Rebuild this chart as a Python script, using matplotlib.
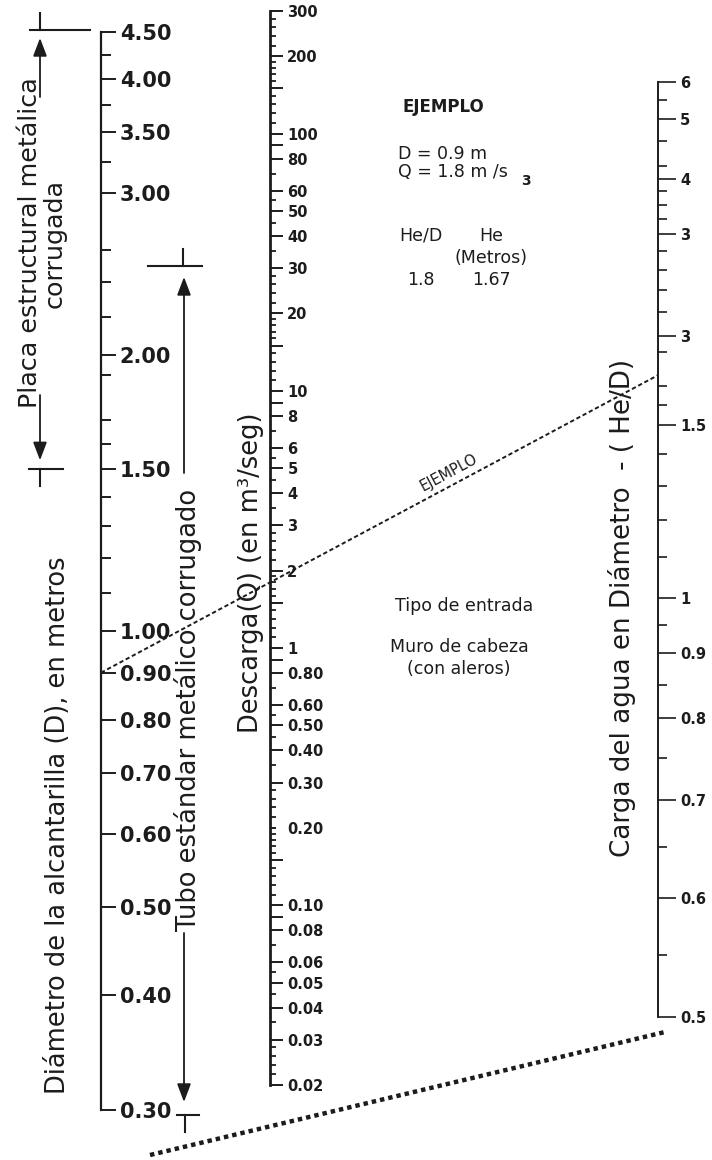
import numpy as np
import matplotlib
matplotlib.use("Agg")
import matplotlib.pyplot as plt
from matplotlib.ticker import FixedLocator, FuncFormatter, NullFormatter
from matplotlib.patches import FancyArrowPatch

# ---- Culvert diameter scale D (m) ----
D_TICKS = [4.50, 4.00, 3.50, 3.00, 2.00, 1.50, 1.00, 0.90, 0.80, 0.70, 0.60, 0.50, 0.40, 0.30]
D_LABELS = ["4.50", "4.00", "3.50", "3.00", "2.00", "1.50", "1.00", "0.90", "0.80",
            "0.70", "0.60", "0.50", "0.40", "0.30"]
D_MINOR = [4.25, 3.75, 3.25, 2.6, 2.4, 2.2, 1.9, 1.7, 1.6, 1.4, 1.3, 1.2, 1.1]

# ---- Discharge scale Q (m3/s) ----
Q_TICKS = [300, 200, 100, 80, 60, 50, 40, 30, 20, 10, 8, 6, 5, 4, 3, 2, 1,
           0.8, 0.6, 0.5, 0.4, 0.3, 0.2, 0.1, 0.08, 0.06, 0.05, 0.04, 0.03, 0.02]
Q_LABELS = ["300", "200", "100", "80", "60", "50", "40", "30", "20", "10", "8", "6", "5",
            "4", "3", "2", "1", "0.80", "0.60", "0.50", "0.40", "0.30", "0.20", "0.10",
            "0.08", "0.06", "0.05", "0.04", "0.03", "0.02"]
Q_SHORT_LABELLED = [0.2]          # labelled values drawn with a short tick
Q_MID = [150, 90, 15, 9, 1.5, 0.9, 0.15, 0.09]
Q_MINOR_MANTISSA = [1.1, 1.2, 1.3, 1.4, 1.6, 1.7, 1.8, 1.9, 2.2, 2.4, 2.6, 2.8, 3.5, 4.5, 5.5, 7]
Q_DECADES = [0.01, 0.1, 1, 10, 100]

# ---- Headwater depth in diameters He/D ----
HED_TICKS = [6, 5, 4, 3, 2, 1.5, 1, 0.9, 0.8, 0.7, 0.6, 0.5]
HED_LABELS = ["6", "5", "4", "3", "3", "1.5", "1", "0.9", "0.8", "0.7", "0.6", "0.5"]
HED_MINOR = [5.5, 4.6, 4.2, 3.75, 3.5, 3.25, 2.8, 2.6, 2.4, 2.2, 1.9, 1.7, 1.6,
             1.4, 1.3, 1.2, 1.1, 0.95, 0.85, 0.75, 0.65, 0.55]
# graduation of the He/D scale: value -> fraction of scale length from the bottom
HED_GRAD_VALUES = [0.5, 0.6, 0.7, 0.8, 0.9, 1.0, 1.5, 2.0, 3.0, 4.0, 5.0, 6.0]
HED_GRAD_FRAC = [0.0, 0.1273, 0.2321, 0.3198, 0.3893, 0.4481, 0.6332, 0.7283,
                 0.8374, 0.8963, 0.9604, 1.0]

# ---- Worked example ----
EX_D = 0.9
EX_Q = 1.8
EX_HED = 1.8
EX_HE = 1.67

# ---- pipe-type ranges on the D scale ----
PLACA_RANGE = (1.5, 4.5)
TUBO_RANGE = (0.3, 2.5)

INK = "#1c1c1c"
W, H = 712, 1160
fig = plt.figure(figsize=(W / 100, H / 100), dpi=100)
fig.patch.set_facecolor("white")

ov = fig.add_axes([0, 0, 1, 1])
ov.set_xlim(0, W)
ov.set_ylim(H, 0)
ov.axis("off")


def scale_axes(x, ytop, ybot, spine_w):
    ax = fig.add_axes([(x - 1) / W, 1 - ybot / H, 1 / W, (ybot - ytop) / H])
    ax.patch.set_visible(False)
    for s in ("left", "top", "bottom"):
        ax.spines[s].set_visible(False)
    ax.spines["right"].set_linewidth(spine_w)
    ax.spines["right"].set_color(INK)
    ax.set_xlim(0, 1)
    ax.xaxis.set_visible(False)
    ax.yaxis.tick_right()
    return ax


def label_fmt(values, labels):
    table = {round(v, 6): t for v, t in zip(values, labels)}
    return FuncFormatter(lambda v, pos: table.get(round(v, 6), ""))


# D scale (logarithmic)
axD = scale_axes(101, 32, 1110, 1.6)
axD.set_yscale("log")
axD.set_ylim(min(D_TICKS), max(D_TICKS))
axD.yaxis.set_major_locator(FixedLocator(D_TICKS))
axD.yaxis.set_major_formatter(label_fmt(D_TICKS, D_LABELS))
axD.yaxis.set_minor_locator(FixedLocator(D_MINOR))
axD.yaxis.set_minor_formatter(NullFormatter())
axD.tick_params(axis="y", which="major", length=10.5, width=1.4, color=INK, pad=3,
                labelsize=15, labelcolor=INK)
axD.tick_params(axis="y", which="minor", length=7, width=1.4, color=INK)
for t in axD.get_yticklabels():
    t.set_fontweight("bold")

# Q scale (logarithmic)
q_minor = [m * d for d in Q_DECADES for m in Q_MINOR_MANTISSA
           if min(Q_TICKS) < m * d < max(Q_TICKS)]
axQ = scale_axes(270, 11, 1085, 2.0)
axQ.set_yscale("log")
axQ.set_ylim(min(Q_TICKS), max(Q_TICKS))
axQ.yaxis.set_major_locator(FixedLocator(sorted(Q_TICKS + Q_MID)))
axQ.yaxis.set_major_formatter(label_fmt(Q_TICKS, Q_LABELS))
axQ.yaxis.set_minor_locator(FixedLocator(q_minor))
axQ.yaxis.set_minor_formatter(NullFormatter())
axQ.tick_params(axis="y", which="major", length=9.5, width=1.4, color=INK, pad=3,
                labelsize=10.5, labelcolor=INK)
axQ.tick_params(axis="y", which="minor", length=4.3, width=1.3, color=INK)
for t in axQ.get_yticklabels():
    t.set_fontweight("bold")
q_locs = axQ.yaxis.get_majorticklocs()
for loc, tk in zip(q_locs, axQ.yaxis.get_major_ticks(len(q_locs))):
    if any(abs(loc - s) < 1e-9 for s in Q_SHORT_LABELLED):
        tk.tick2line.set_markersize(4.3)

# He/D scale (graduated)
_gv = np.log10(HED_GRAD_VALUES)
_gf = np.array(HED_GRAD_FRAC)


def hed_fwd(v):
    return np.interp(np.log10(np.clip(np.asarray(v, float), 1e-6, None)), _gv, _gf)


def hed_inv(u):
    return 10 ** np.interp(np.asarray(u, float), _gf, _gv)


axH = scale_axes(658, 82, 1017, 1.4)
axH.set_yscale("function", functions=(hed_fwd, hed_inv))
axH.set_ylim(min(HED_TICKS), max(HED_TICKS))
axH.yaxis.set_major_locator(FixedLocator(HED_TICKS))
axH.yaxis.set_major_formatter(FuncFormatter(
    lambda v, pos: HED_LABELS[HED_TICKS.index(min(HED_TICKS, key=lambda t: abs(t - v)))]))
axH.yaxis.set_minor_locator(FixedLocator(HED_MINOR))
axH.yaxis.set_minor_formatter(NullFormatter())
axH.tick_params(axis="y", which="major", length=13, width=1.2, color=INK, pad=3,
                labelsize=10.5, labelcolor=INK)
axH.tick_params(axis="y", which="minor", length=6.5, width=1.2, color=INK)
for t in axH.get_yticklabels():
    t.set_fontweight("bold")


def on_scale(ax, v):
    """Point of value v on the scale line of ax, in overlay (pixel) coordinates."""
    disp = ax.transData.transform((1, v))
    return ov.transData.inverted().transform(disp)


# ---- worked example: line through D and Q, extended to the He/D scale ----
x1, y1 = on_scale(axD, EX_D)
x2, y2 = on_scale(axQ, EX_Q)
x3 = on_scale(axH, EX_HED)[0]
y3 = y1 + (y2 - y1) * (x3 - x1) / (x2 - x1)
ov.plot([x1, x3], [y1, y3], color=INK, lw=1.4, ls=(0, (2.2, 1.4)), zorder=3)
ang = np.degrees(np.arctan2(y1 - y3, x3 - x1))
xl = 455
yl = y1 + (y3 - y1) * (xl - x1) / (x3 - x1)
nx, ny = np.sin(np.radians(ang)), np.cos(np.radians(ang))
ov.text(xl - 13 * nx, yl - 13 * ny, "EJEMPLO", rotation=ang, rotation_mode="anchor",
        ha="center", va="center", fontsize=10.5, color=INK)

# lower guide line
ov.plot([150, 665], [1155, 1032], color=INK, lw=3.2, ls=(0, (1.0, 0.9)), zorder=3)


# ---- dimension arrows for the pipe-type ranges ----
def arrow(x, y_from, y_to):
    ov.add_patch(FancyArrowPatch((x, y_from), (x, y_to),
                                 arrowstyle="-|>,head_length=1.0,head_width=0.38",
                                 mutation_scale=11, color=INK, lw=1.3,
                                 shrinkA=0, shrinkB=0))


def bar(x0, x1_, y, xt, tick_dir):
    ov.plot([x0, x1_], [y, y], color=INK, lw=1.5)
    ov.plot([xt, xt], [y, y + tick_dir * 17], color=INK, lw=1.5)


yP_top = on_scale(axD, PLACA_RANGE[1])[1] - 2
yP_bot = on_scale(axD, PLACA_RANGE[0])[1]
bar(30, 90, yP_top, 40, -1)
bar(29, 63, yP_bot, 40, 1)
arrow(40, 97, yP_top + 8)
arrow(40, 395, yP_bot - 9)
ov.text(42, 243, "Placa estructural metálica\ncorrugada", rotation=90, ha="center",
        va="center", multialignment="center", fontsize=18.3, color=INK, linespacing=1.05)

yT_top = on_scale(axD, TUBO_RANGE[1])[1]
yT_bot = on_scale(axD, TUBO_RANGE[0])[1] + 5
bar(148, 202, yT_top, 183, -1)
bar(177, 199, yT_bot, 185, 1)
arrow(184, 473, yT_top + 11)
arrow(184, 933, yT_bot - 13)
ov.text(188, 710, "Tubo estándar metálico corrugado", rotation=90, ha="center",
        va="center", fontsize=18.5, color=INK)

# ---- scale titles ----
ov.text(58, 825, "Diámetro de la alcantarilla (D), en metros", rotation=90,
        ha="center", va="center", fontsize=18.5, color=INK)
ov.text(251, 573, "Descarga(Q) (en m³/seg)", rotation=90, ha="center", va="center",
        fontsize=18.5, color=INK)
ov.text(622, 608, "Carga del agua en Diámetro  - ( He/D)", rotation=90, ha="center",
        va="center", fontsize=18.8, color=INK)

# ---- example box ----
ov.text(402, 107, "EJEMPLO", ha="left", va="center", fontsize=12, fontweight="bold",
        color=INK)
ov.text(398, 154, f"D = {EX_D} m", ha="left", va="center", fontsize=12.5, color=INK)
ov.text(398, 172, f"Q = {EX_Q} m /s", ha="left", va="center", fontsize=12.5, color=INK)
ov.text(521, 181, "3", ha="left", va="center", fontsize=10, fontweight="bold", color=INK)
ov.text(399, 236, "He/D", ha="left", va="center", fontsize=12.5, color=INK)
ov.text(491, 236, "He", ha="center", va="center", fontsize=12.5, color=INK)
ov.text(491, 258, "(Metros)", ha="center", va="center", fontsize=12.5, color=INK)
ov.text(421, 280, f"{EX_HED}", ha="center", va="center", fontsize=12.5, color=INK)
ov.text(491, 280, f"{EX_HE}", ha="center", va="center", fontsize=12.5, color=INK)

ov.text(464, 606, "Tipo de entrada", ha="center", va="center", fontsize=12.5, color=INK)
ov.text(459, 647, "Muro de cabeza", ha="center", va="center", fontsize=12.5, color=INK)
ov.text(459, 669, "(con aleros)", ha="center", va="center", fontsize=12.5, color=INK)

fig.savefig("out.png", dpi=100, facecolor="white")
